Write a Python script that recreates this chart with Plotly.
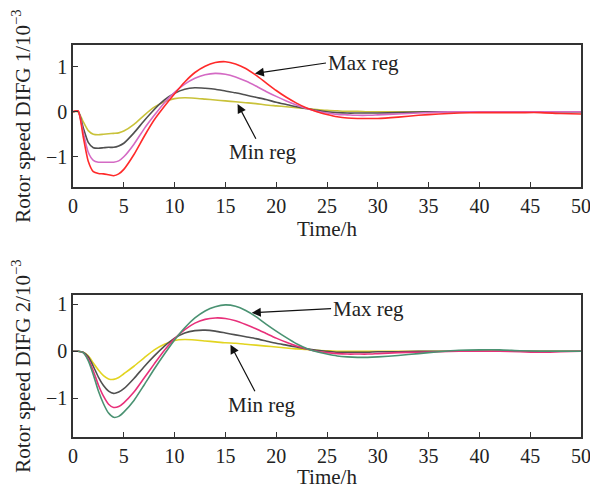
import plotly.graph_objects as go

time_h = [0, 0.5, 1, 1.5, 2, 2.5, 3, 3.5, 4, 4.5, 5, 6, 7, 8, 9, 10, 11, 12, 13, 14, 15, 16, 17, 18,
          19, 20, 21, 22, 23, 24, 25, 26, 27, 28, 29, 30, 32, 34, 36, 38, 40, 42, 44, 46, 48, 50]

# DIFG 1 (top)
g1_max = [0, 0.02, -0.55, -1.1, -1.33, -1.37, -1.38, -1.40, -1.42, -1.38, -1.28, -0.95, -0.55, -0.18,
          0.12, 0.40, 0.66, 0.87, 1.01, 1.09, 1.11, 1.06, 0.96, 0.81, 0.64, 0.47, 0.32, 0.19, 0.08,
          0.00, -0.06, -0.11, -0.14, -0.15, -0.15, -0.15, -0.12, -0.08, -0.05, -0.03, -0.02, -0.02,
          -0.02, -0.02, -0.04, -0.05]
g1_mid2 = [0, 0.01, -0.45, -0.9, -1.08, -1.12, -1.12, -1.12, -1.12, -1.09, -1.0, -0.72, -0.38, -0.08,
           0.2, 0.43, 0.61, 0.74, 0.82, 0.85, 0.83, 0.77, 0.68, 0.57, 0.45, 0.34, 0.24, 0.15, 0.07,
           0.01, -0.03, -0.06, -0.07, -0.08, -0.08, -0.07, -0.05, -0.03, -0.01, 0, 0, 0, 0, 0, 0, 0]
g1_mid1 = [0, 0.01, -0.35, -0.68, -0.8, -0.81, -0.8, -0.79, -0.79, -0.76, -0.7, -0.47, -0.2, 0.05,
           0.26, 0.41, 0.5, 0.53, 0.52, 0.5, 0.46, 0.42, 0.37, 0.32, 0.27, 0.21, 0.16, 0.11, 0.07,
           0.03, 0.0, -0.02, -0.03, -0.03, -0.03, -0.03, -0.02, -0.01, 0, 0, 0, 0, 0, 0, 0, 0]
g1_min = [0, 0.0, -0.22, -0.42, -0.5, -0.51, -0.5, -0.49, -0.48, -0.47, -0.43, -0.28, -0.08, 0.1,
          0.22, 0.29, 0.31, 0.3, 0.28, 0.26, 0.24, 0.22, 0.2, 0.18, 0.15, 0.13, 0.11, 0.09, 0.07,
          0.05, 0.03, 0.02, 0.01, 0.01, 0.0, 0, 0, 0, 0, 0, 0, 0, 0, 0, 0, 0]

# DIFG 2 (bottom)
g2_max = [0, 0.0, -0.03, -0.2, -0.5, -0.85, -1.12, -1.32, -1.41, -1.39, -1.3, -1.05, -0.72, -0.38,
          -0.06, 0.24, 0.5, 0.71, 0.86, 0.95, 0.99, 0.96, 0.87, 0.74, 0.58, 0.43, 0.29, 0.16, 0.06,
          -0.01, -0.06, -0.1, -0.12, -0.13, -0.13, -0.12, -0.09, -0.05, -0.01, 0.02, 0.03, 0.03,
          0.01, 0.0, 0, 0]
g2_mid2 = [0, 0, -0.03, -0.17, -0.42, -0.72, -0.96, -1.13, -1.2, -1.18, -1.1, -0.87, -0.57, -0.27,
           0.02, 0.27, 0.46, 0.6, 0.68, 0.71, 0.7, 0.65, 0.57, 0.48, 0.38, 0.28, 0.19, 0.11, 0.05,
           0.0, -0.03, -0.05, -0.06, -0.06, -0.06, -0.05, -0.03, -0.02, -0.01, 0, 0, 0, -0.01,
           -0.02, -0.01, 0]
g2_mid1 = [0, 0, -0.02, -0.12, -0.32, -0.55, -0.73, -0.85, -0.9, -0.87, -0.8, -0.58, -0.33, -0.1,
           0.11, 0.28, 0.39, 0.44, 0.45, 0.43, 0.39, 0.35, 0.31, 0.27, 0.22, 0.17, 0.13, 0.09, 0.05,
           0.02, 0.0, -0.02, -0.02, -0.02, -0.02, -0.01, -0.01, 0, 0, 0, 0, 0, 0, 0, 0, 0]
g2_min = [0, 0, -0.02, -0.1, -0.25, -0.4, -0.52, -0.59, -0.6, -0.56, -0.48, -0.32, -0.14, 0.03,
          0.15, 0.23, 0.25, 0.24, 0.22, 0.2, 0.18, 0.17, 0.15, 0.13, 0.11, 0.09, 0.07, 0.05, 0.04,
          0.02, 0.01, 0.0, 0, 0, 0, 0, 0, 0, 0, 0, 0, 0, 0, 0, 0, 0]

x_ticks = [0, 5, 10, 15, 20, 25, 30, 35, 40, 45, 50]
y_ticks = [-1, 0, 1]
y_tick_text = ["\u22121", "0", "1"]

FONT = "Liberation Serif, Times New Roman, serif"

fig = go.Figure()

top_series = [(g1_max, "#ff2a2a"), (g1_mid2, "#d46ac4"), (g1_mid1, "#505050"), (g1_min, "#c9c23a")]
bot_series = [(g2_max, "#4a9272"), (g2_mid2, "#e8307a"), (g2_mid1, "#505050"), (g2_min, "#e2d420")]

for ys, c in top_series[::-1]:
    fig.add_trace(go.Scatter(x=time_h, y=ys, mode="lines", xaxis="x", yaxis="y",
                             line=dict(color=c, width=1.6, shape="spline", smoothing=0.6),
                             showlegend=False))
for ys, c in bot_series[::-1]:
    fig.add_trace(go.Scatter(x=time_h, y=ys, mode="lines", xaxis="x2", yaxis="y2",
                             line=dict(color=c, width=1.6, shape="spline", smoothing=0.6),
                             showlegend=False))

axis_common = dict(showgrid=False, zeroline=False, showline=True, linecolor="#333333",
                   linewidth=1.5, mirror=True, ticks="inside", ticklen=5, tickwidth=1.2,
                   tickcolor="#333333", automargin=False,
                   tickfont=dict(family=FONT, size=20, color="#222222"))

# the page body has an 8px default margin, so the figure is sized to fit the 598x489 window
fig.update_layout(
    width=590, height=481,
    margin=dict(l=65, r=17, t=37, b=52),
    plot_bgcolor="white", paper_bgcolor="white",
    font=dict(family=FONT, size=20, color="#222222"),
    xaxis=dict(domain=[0, 1], range=[0, 50], tickvals=x_ticks, anchor="y",
               title=dict(text="Time/h", font=dict(family=FONT, size=21), standoff=6),
               **axis_common),
    yaxis=dict(domain=[0.6378, 1], range=[-1.67, 1.48], tickvals=y_ticks, ticktext=y_tick_text,
               anchor="x",
               title=dict(text="Rotor speed DIFG 1/10<sup>\u22123</sup>",
                          font=dict(family=FONT, size=21), standoff=14),
               **axis_common),
    xaxis2=dict(domain=[0, 1], range=[0, 50], tickvals=x_ticks, anchor="y2",
                title=dict(text="Time/h", font=dict(family=FONT, size=21), standoff=6),
                **axis_common),
    yaxis2=dict(domain=[0, 0.3622], range=[-1.83, 1.2], tickvals=y_ticks, ticktext=y_tick_text,
                anchor="x2",
                title=dict(text="Rotor speed DIFG 2/10<sup>\u22123</sup>",
                           font=dict(family=FONT, size=21), standoff=14),
                **axis_common),
)

label_font = dict(family=FONT, size=21, color="#222222")
arrow_style = dict(showarrow=True, arrowhead=2, arrowsize=1.5, arrowwidth=1.2,
                   arrowcolor="#111111", font=label_font)

# top
fig.add_annotation(x=17.9, y=0.85, ax=24.9, ay=1.08, xref="x", yref="y", axref="x", ayref="y",
                   text="Max reg", xanchor="left", yanchor="middle", **arrow_style)
fig.add_annotation(x=16.2, y=0.17, ax=18.7, ay=-0.9, xref="x", yref="y", axref="x", ayref="y",
                   text="Min reg", xanchor="center", yanchor="middle", **arrow_style)

# bottom
fig.add_annotation(x=17.6, y=0.82, ax=25.4, ay=0.91, xref="x2", yref="y2", axref="x2", ayref="y2",
                   text="Max reg", xanchor="left", yanchor="middle", **arrow_style)
fig.add_annotation(x=15.5, y=0.14, ax=18.6, ay=-1.14, xref="x2", yref="y2", axref="x2", ayref="y2",
                   text="Min reg", xanchor="center", yanchor="middle", **arrow_style)

fig.write_html("out.html")
